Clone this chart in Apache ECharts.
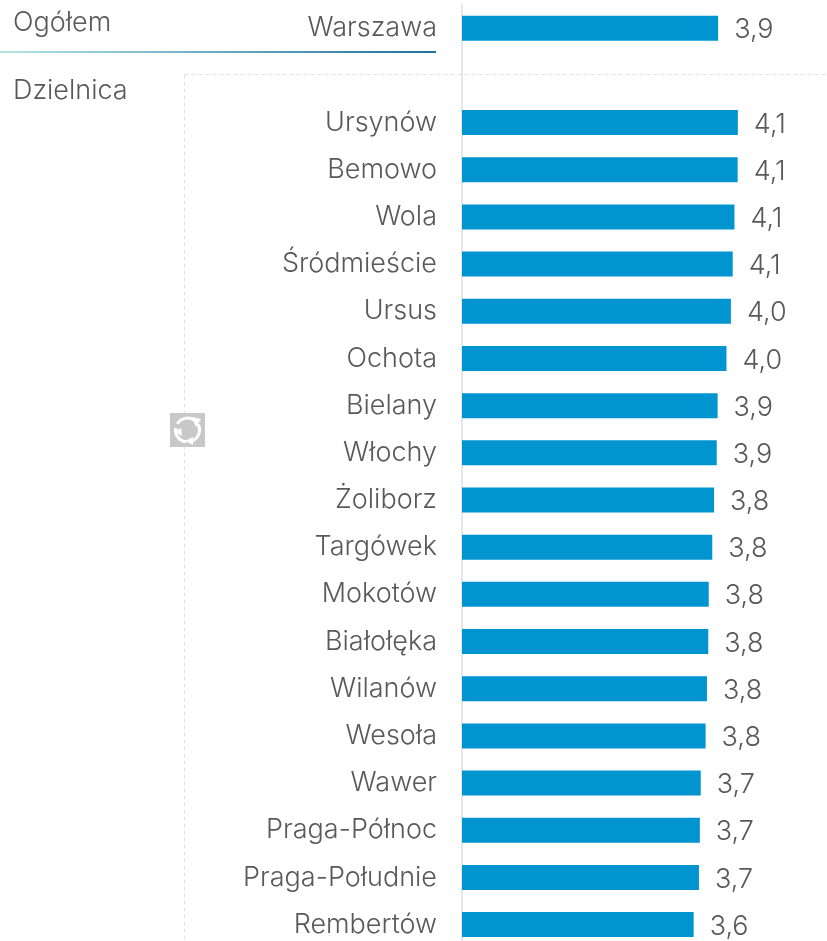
<!DOCTYPE html>
<html><head><meta charset="utf-8">
<style>html,body{margin:0;padding:0;background:#fff}#c{width:827px;height:941px}</style>
<script src="https://cdn.jsdelivr.net/npm/echarts@6/dist/echarts.min.js"></script>
</head><body><div id="c"></div>
<script>
var categories=['Warszawa','','Ursynów','Bemowo','Wola','Śródmieście','Ursus','Ochota','Bielany','Włochy','Żoliborz','Targówek','Mokotów','Białołęka','Wilanów','Wesoła','Wawer','Praga-Północ','Praga-Południe','Rembertów'];
var values=[3.886,null,4.108,4.106,4.07,4.05,4.03,3.98,3.88,3.87,3.84,3.82,3.78,3.775,3.76,3.745,3.69,3.68,3.67,3.61];
var labels=['3,9','','4,1','4,1','4,1','4,1','4,0','4,0','3,9','3,9','3,8','3,8','3,8','3,8','3,8','3,8','3,7','3,7','3,7','3,6'];
var headings=['Ogółem','Dzielnica'];
var F='Inter,"Open Sans",sans-serif';
var TXT='#595959';
var SIZE=27;
var chart=echarts.init(document.getElementById('c'),null,{renderer:'canvas'});
chart.setOption({
 animation:false,
 grid:{left:462,top:4.6,width:355,height:943.6,outerBoundsMode:'none',containLabel:false},
 xAxis:{type:'value',min:1,max:5,show:false},
 yAxis:{type:'category',inverse:true,data:categories,
  axisLine:{show:true,lineStyle:{color:'#e6e6e6',width:2}},axisTick:{show:false},
  axisLabel:{color:TXT,fontFamily:F,fontWeight:300,fontSize:SIZE,margin:25,interval:0}},
 series:[{type:'bar',data:values,barWidth:25,itemStyle:{color:'#0095d0'},
  label:{show:true,position:'right',distance:16,offset:[0,2],color:TXT,fontFamily:F,fontWeight:300,fontSize:SIZE,
   formatter:function(p){return labels[p.dataIndex];}}}],
 graphic:[
  {type:'line',silent:true,z:0,shape:{x1:184.5,y1:74.5,x2:827,y2:74.5},style:{stroke:'#e2e2e2',lineWidth:1,lineDash:[4,3]}},
  {type:'line',silent:true,z:0,shape:{x1:184.5,y1:74.5,x2:184.5,y2:941},style:{stroke:'#e2e2e2',lineWidth:1,lineDash:[4,3]}},
  {type:'rect',silent:true,shape:{x:0,y:51,width:436,height:2},style:{fill:{type:'linear',x:0,y:0,x2:1,y2:0,colorStops:[{offset:0,color:'#b5e5e2'},{offset:1,color:'#1f6f9f'}]}}},
  {type:'text',silent:true,x:13,y:23,style:{text:headings[0],font:'300 '+SIZE+'px '+F,fill:TXT,verticalAlign:'middle'}},
  {type:'text',silent:true,x:13,y:91,style:{text:headings[1],font:'300 '+SIZE+'px '+F,fill:TXT,verticalAlign:'middle'}},
  {type:'rect',silent:true,z:5,shape:{x:170,y:413,width:35,height:34},style:{fill:'#c8c8c8'}},
  {type:'arc',silent:true,z:6,shape:{cx:187.5,cy:430,r:12,startAngle:-2.6,endAngle:-0.9},style:{fill:null,stroke:'#fff',lineWidth:3}},
  {type:'arc',silent:true,z:6,shape:{cx:187.5,cy:430,r:12,startAngle:-0.5,endAngle:1.2},style:{fill:null,stroke:'#fff',lineWidth:3}},
  {type:'arc',silent:true,z:6,shape:{cx:187.5,cy:430,r:12,startAngle:1.7,endAngle:3.3},style:{fill:null,stroke:'#fff',lineWidth:3}},
  {type:'polygon',silent:true,z:6,shape:{points:[[192,417],[201,419],[196,427]]},style:{fill:'#fff'}},
  {type:'polygon',silent:true,z:6,shape:{points:[[193,437],[193,445],[185,441]]},style:{fill:'#fff'}},
  {type:'polygon',silent:true,z:6,shape:{points:[[174,431],[181,428],[182,436]]},style:{fill:'#fff'}}
 ]
});
</script></body></html>
